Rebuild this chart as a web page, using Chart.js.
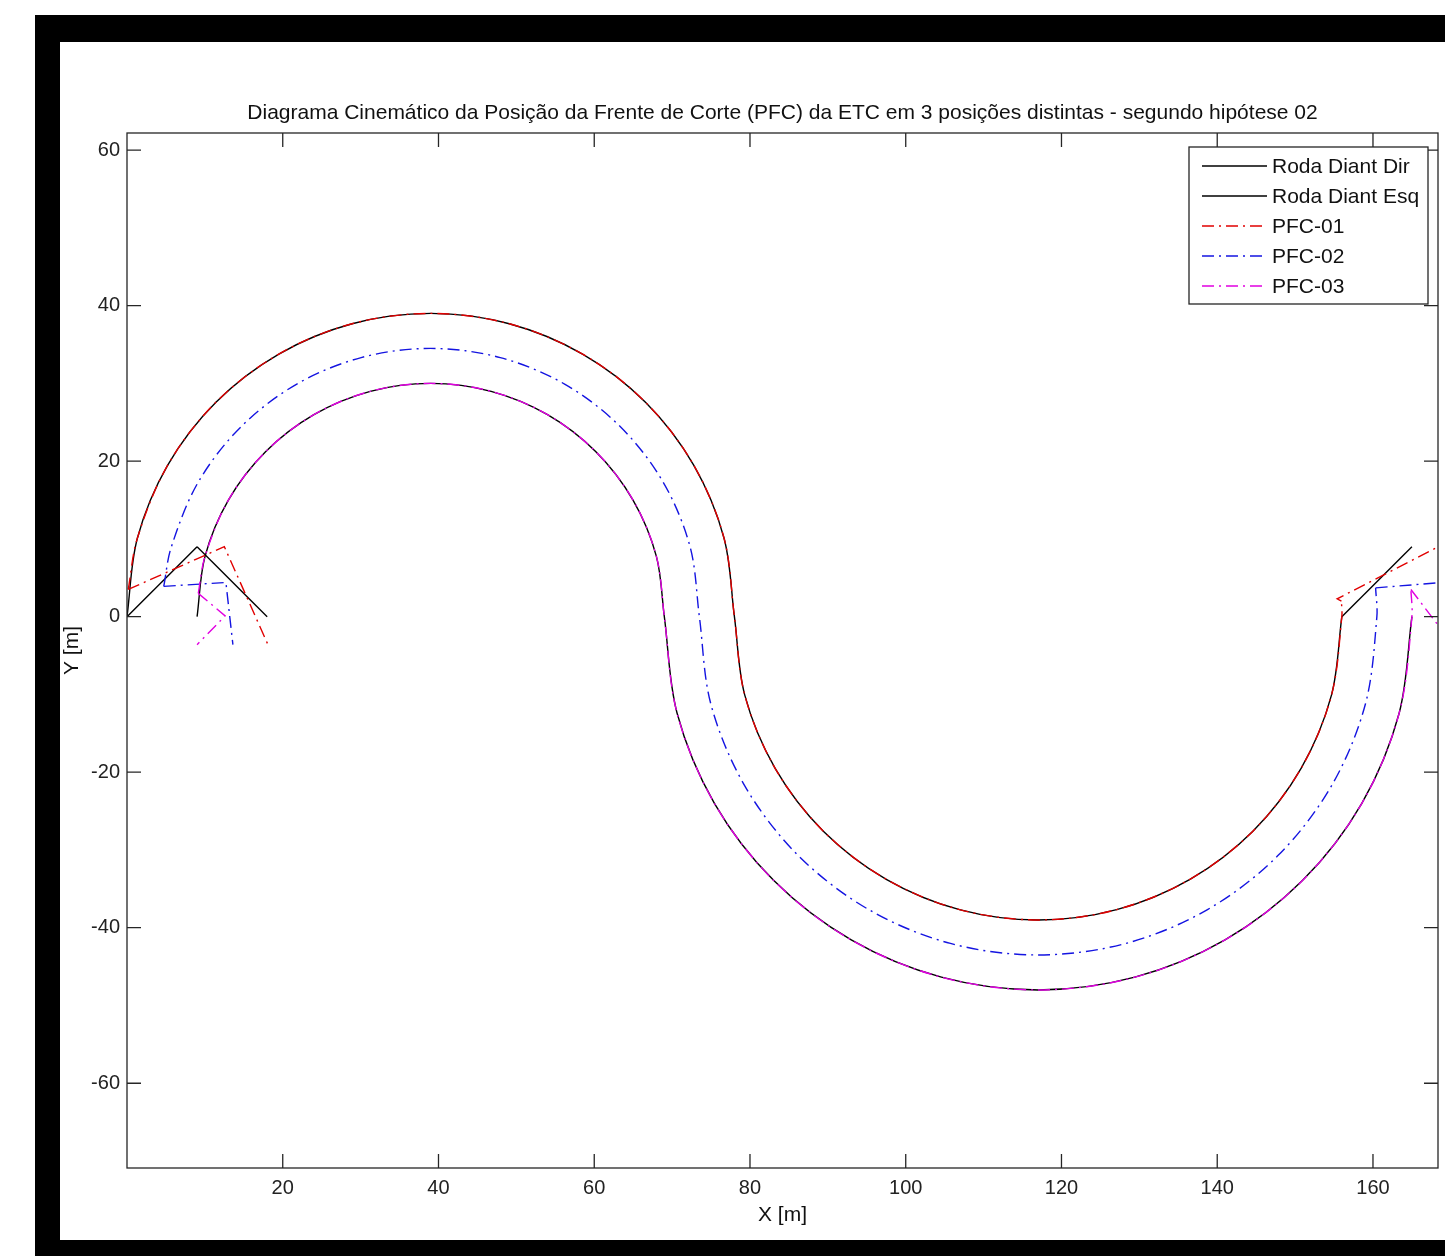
<!DOCTYPE html>
<html lang="pt">
<head>
  <meta charset="UTF-8">
  <title>Diagrama Cinemático da PFC</title>
  <script src="https://cdn.jsdelivr.net/npm/chart.js"></script>
  <style>
    html, body {
      margin: 0;
      padding: 0;
      background: #fff;
      width: 1445px;
      height: 1256px;
      overflow: hidden;
    }
    .frame {
      position: absolute;
      left: 35px;
      top: 15px;
      width: 1400px;
      height: 1198px;
      border: solid #000;
      border-width: 27px 40px 40px 25px;
      background: #fff;
    }
    .chart-box {
      position: absolute;
      left: 0;
      top: 0;
      width: 1385px;
      height: 1198px;
    }
  </style>
</head>
<body>

  <div class="frame">
    <div class="chart-box">
      <canvas id="pfcChart"></canvas>
    </div>
  </div>

  <script>
    // eixos
    const xTicks = [20, 40, 60, 80, 100, 120, 140, 160];
    const yTicks = [-60, -40, -20, 0, 20, 40, 60];
    const xLimits = [0, 168.35];
    const yLimits = [-70.9, 62.2];

    // primeira curva (centro x=39), raio 39
    const arcA1X = [0, 1.33, 5.23, 11.42, 19.5, 28.91, 39, 49.09, 58.5, 66.58, 72.77, 76.67, 78];
    const arcA1Y = [0, 10.09, 19.5, 27.58, 33.77, 37.67, 39, 37.67, 33.77, 27.58, 19.5, 10.09, 0];
    // segunda curva (centro x=117), raio 39
    const arcA2X = [78, 79.33, 83.23, 89.42, 97.5, 106.91, 117, 127.09, 136.5, 144.58, 150.77, 154.67, 156];
    const arcA2Y = [0, -10.09, -19.5, -27.58, -33.77, -37.67, -39, -37.67, -33.77, -27.58, -19.5, -10.09, 0];

    // primeira curva, raio 30
    const arcB1X = [9, 10.02, 13.02, 17.79, 24, 31.24, 39, 46.76, 54, 60.21, 64.98, 67.98, 69];
    const arcB1Y = [0, 7.76, 15, 21.21, 25.98, 28.98, 30, 28.98, 25.98, 21.21, 15, 7.76, 0];
    // segunda curva, raio 48
    const arcB2X = [69, 70.64, 75.43, 83.06, 93, 104.58, 117, 129.42, 141, 150.94, 158.57, 163.36, 165];
    const arcB2Y = [0, -12.42, -24, -33.94, -41.57, -46.36, -48, -46.36, -41.57, -33.94, -24, -12.42, 0];

    // linha central (PFC-02): raios 34.5 e 43.5
    const arcC1X = [4.72, 5.68, 9.12, 14.61, 21.75, 30.07, 39, 47.93, 56.25, 63.39, 68.88, 72.32, 73.5];
    const arcC1Y = [3.9, 8.93, 17.25, 24.39, 29.88, 33.32, 34.5, 33.32, 29.88, 24.39, 17.25, 8.93, 0];
    const arcC2X = [73.5, 74.98, 79.33, 86.24, 95.25, 105.74, 117, 128.26, 138.75, 147.76, 154.67, 159.02, 160.5, 160.34];
    const arcC2Y = [0, -11.26, -21.75, -30.76, -37.67, -42.02, -43.5, -42.02, -37.67, -30.76, -21.75, -11.26, 0, 3.7];

    // trechos retos nas extremidades
    const dirLeftX = [9, 0];
    const dirLeftY = [9, 0];
    const dirRightX = [156, 165];
    const dirRightY = [0, 9];
    const esqLeftX = [9, 18];
    const esqLeftY = [9, 0];

    const pfc1LeftX = [0.16, 12.5, 18.1];
    const pfc1LeftY = [3.5, 9.0, -3.6];
    const pfc1RightX = [155.95, 155.4, 168.4, 174];
    const pfc1RightY = [2.0, 2.3, 9.0, -3.6];

    const pfc2LeftX = [4.72, 12.7, 13.6];
    const pfc2LeftY = [3.9, 4.4, -3.6];
    const pfc2RightX = [160.34, 168.8, 169.7];
    const pfc2RightY = [3.7, 4.4, -3.6];

    const pfc3LeftX = [9.15, 12.6, 9.0];
    const pfc3LeftY = [3.0, 0.1, -3.6];
    const pfc3RightX = [164.87, 169.2, 172];
    const pfc3RightY = [3.5, -2.2, -3.6];

    const family = "'Liberation Sans', Arial, sans-serif";
    const tickFont = { family: family, size: 20 };
    const textFont = { family: family, size: 21 };
    const dashDot = [12, 5, 2, 5];

    function pts(xs, ys) {
      return xs.map((x, i) => ({ x: x, y: ys[i] }));
    }

    function line(label, data, color, dash, curved, inLegend, order) {
      return {
        label: label,
        data: data,
        showLine: true,
        borderColor: color,
        borderWidth: 1.4,
        borderDash: dash,
        pointRadius: 0,
        tension: curved ? 0.33 : 0,
        inLegend: inLegend,
        order: order
      };
    }

    const datasets = [
      line('Roda Diant Dir',
        pts(arcA1X.concat(arcA2X.slice(1)), arcA1Y.concat(arcA2Y.slice(1))),
        '#000', [], true, true, 2),
      line('Roda Diant Esq',
        pts(arcB1X.concat(arcB2X.slice(1)), arcB1Y.concat(arcB2Y.slice(1))),
        '#000', [], true, true, 2),
      line('PFC-01',
        pts([pfc1LeftX[0]].concat(arcA1X.slice(1), arcA2X.slice(1), [pfc1RightX[0]]),
            [pfc1LeftY[0]].concat(arcA1Y.slice(1), arcA2Y.slice(1), [pfc1RightY[0]])),
        'rgb(225,0,0)', dashDot, true, true, 1),
      line('PFC-02', pts(arcC1X.concat(arcC2X.slice(1)), arcC1Y.concat(arcC2Y.slice(1))),
        'rgb(20,20,225)', dashDot, true, true, 1),
      line('PFC-03',
        pts([pfc3LeftX[0]].concat(arcB1X.slice(1), arcB2X.slice(1), [pfc3RightX[0]]),
            [pfc3LeftY[0]].concat(arcB1Y.slice(1), arcB2Y.slice(1), [pfc3RightY[0]])),
        'rgb(225,0,225)', dashDot, true, true, 0),

      line('', pts(dirLeftX, dirLeftY), '#000', [], false, false, 2),
      line('', pts(dirRightX, dirRightY), '#000', [], false, false, 2),
      line('', pts(esqLeftX, esqLeftY), '#000', [], false, false, 2),
      line('', pts(pfc1LeftX, pfc1LeftY), 'rgb(225,0,0)', dashDot, false, false, 1),
      line('', pts(pfc1RightX, pfc1RightY), 'rgb(225,0,0)', dashDot, false, false, 1),
      line('', pts(pfc2LeftX, pfc2LeftY), 'rgb(20,20,225)', dashDot, false, false, 1),
      line('', pts(pfc2RightX, pfc2RightY), 'rgb(20,20,225)', dashDot, false, false, 1),
      line('', pts(pfc3LeftX, pfc3LeftY), 'rgb(225,0,225)', dashDot, false, false, 0),
      line('', pts(pfc3RightX, pfc3RightY), 'rgb(225,0,225)', dashDot, false, false, 0)
    ];

    // caixa dos eixos com ticks para dentro (estilo MATLAB) e legenda
    const axesBox = {
      id: 'axesBox',
      afterDatasetsDraw(chart) {
        const { ctx, chartArea: a, scales: { x, y } } = chart;
        ctx.save();
        ctx.strokeStyle = '#262626';
        ctx.lineWidth = 1.3;
        ctx.beginPath();
        xTicks.forEach(v => {
          const px = x.getPixelForValue(v);
          ctx.moveTo(px, a.bottom);
          ctx.lineTo(px, a.bottom - 14);
          ctx.moveTo(px, a.top);
          ctx.lineTo(px, a.top + 14);
        });
        yTicks.forEach(v => {
          const py = y.getPixelForValue(v);
          ctx.moveTo(a.left, py);
          ctx.lineTo(a.left + 14, py);
          ctx.moveTo(a.right, py);
          ctx.lineTo(a.right - 14, py);
        });
        ctx.stroke();
        ctx.strokeRect(a.left, a.top, a.right - a.left, a.bottom - a.top);

        // legenda
        const lx = a.right - 249, ly = a.top + 14, lw = 239, lh = 157;
        ctx.fillStyle = '#fff';
        ctx.fillRect(lx, ly, lw, lh);
        ctx.strokeRect(lx, ly, lw, lh);
        ctx.font = textFont.size + 'px ' + family;
        ctx.textBaseline = 'middle';
        chart.data.datasets.filter(ds => ds.inLegend).forEach((ds, i) => {
          const cy = ly + 19 + i * 30;
          ctx.strokeStyle = ds.borderColor;
          ctx.setLineDash(ds.borderDash);
          ctx.beginPath();
          ctx.moveTo(lx + 13, cy);
          ctx.lineTo(lx + 78, cy);
          ctx.stroke();
          ctx.setLineDash([]);
          ctx.fillStyle = '#111';
          ctx.fillText(ds.label, lx + 83, cy + 1);
        });
        ctx.restore();
      }
    };

    new Chart(document.getElementById('pfcChart'), {
      type: 'scatter',
      data: { datasets: datasets },
      options: {
        responsive: true,
        maintainAspectRatio: false,
        animation: false,
        layout: { padding: { left: 0, top: 0, right: 7, bottom: 0 } },
        plugins: {
          legend: { display: false },
          tooltip: { enabled: false },
          title: {
            display: true,
            fullSize: false,
            text: 'Diagrama Cinemático da Posição da Frente de Corte (PFC) da ETC em 3 posições distintas - segundo hipótese 02',
            font: { family: family, size: 21, weight: 'normal' },
            color: '#111',
            padding: { top: 58.4, bottom: 7.4 }
          }
        },
        scales: {
          x: {
            type: 'linear',
            min: xLimits[0],
            max: xLimits[1],
            afterBuildTicks: s => { s.ticks = xTicks.map(v => ({ value: v })); },
            afterFit: s => { s.height = 72; },
            grid: { display: false, drawTicks: false },
            border: { display: false },
            ticks: { font: tickFont, color: '#222', padding: 8, maxRotation: 0, autoSkip: false },
            title: { display: true, text: 'X [m]', font: textFont, color: '#111', padding: { top: 0, bottom: 12.4 } }
          },
          y: {
            type: 'linear',
            min: yLimits[0],
            max: yLimits[1],
            afterBuildTicks: s => { s.ticks = yTicks.map(v => ({ value: v })); },
            afterFit: s => { s.width = 67; },
            grid: { display: false, drawTicks: false },
            border: { display: false },
            ticks: { font: tickFont, color: '#222', padding: 7, autoSkip: false },
            title: { display: true, text: 'Y [m]', font: textFont, color: '#111', padding: { top: 0, bottom: 0 } }
          }
        }
      },
      plugins: [axesBox]
    });
  </script>

</body>
</html>
